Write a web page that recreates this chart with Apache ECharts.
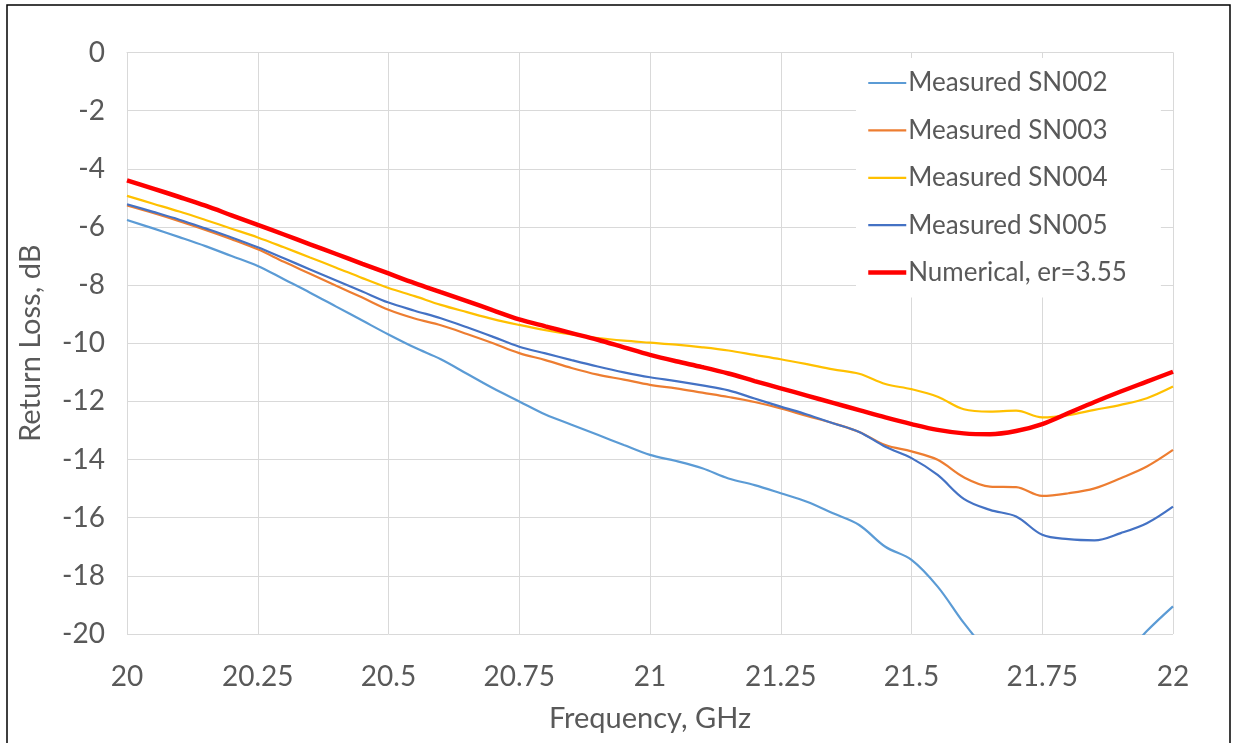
<!DOCTYPE html>
<html>
<head>
<meta charset="utf-8">
<script src="https://cdn.jsdelivr.net/npm/echarts@6/dist/echarts.min.js"></script>
<style>
  html, body { margin: 0; padding: 0; background: #fff; }
  #chart { width: 1233px; height: 743px; }
</style>
</head>
<body>
<div id="chart"></div>
<script>
// Frequency sweep, GHz (0.05 GHz steps)
const freq = [
  20.00, 20.05, 20.10, 20.15, 20.20, 20.25, 20.30, 20.35, 20.40, 20.45,
  20.50, 20.55, 20.60, 20.65, 20.70, 20.75, 20.80, 20.85, 20.90, 20.95,
  21.00, 21.05, 21.10, 21.15, 21.20, 21.25, 21.30, 21.35, 21.40, 21.45,
  21.50, 21.55, 21.60, 21.65, 21.70, 21.75, 21.80, 21.85, 21.90, 21.95,
  22.00
];

// Return loss, dB
const sn002 = [
  -5.76, -6.05, -6.35, -6.66, -7.00, -7.34, -7.80, -8.26, -8.74, -9.22,
  -9.70, -10.15, -10.55, -11.05, -11.55, -12.00, -12.45, -12.80, -13.15, -13.50,
  -13.84, -14.05, -14.30, -14.65, -14.88, -15.16, -15.45, -15.85, -16.25, -17.00,
  -17.45, -18.37, -19.62, -20.70, -21.60, -22.20, -22.30, -21.80, -20.90, -19.90,
  -19.05
];
const sn003 = [
  -5.26, -5.52, -5.80, -6.10, -6.42, -6.77, -7.20, -7.61, -8.02, -8.43,
  -8.85, -9.15, -9.38, -9.68, -10.00, -10.34, -10.58, -10.85, -11.08, -11.25,
  -11.43, -11.55, -11.70, -11.85, -12.02, -12.24, -12.50, -12.75, -13.05, -13.50,
  -13.72, -14.01, -14.61, -14.93, -14.95, -15.25, -15.16, -14.99, -14.64, -14.24,
  -13.67
];
const sn004 = [
  -4.93, -5.20, -5.47, -5.76, -6.06, -6.36, -6.70, -7.05, -7.40, -7.76,
  -8.10, -8.38, -8.68, -8.93, -9.17, -9.37, -9.55, -9.70, -9.82, -9.91,
  -9.98, -10.05, -10.14, -10.25, -10.40, -10.55, -10.72, -10.90, -11.05, -11.40,
  -11.58, -11.84, -12.27, -12.35, -12.32, -12.55, -12.47, -12.29, -12.12, -11.89,
  -11.49
];
const sn005 = [
  -5.22, -5.48, -5.75, -6.05, -6.36, -6.70, -7.08, -7.46, -7.84, -8.22,
  -8.60, -8.88, -9.14, -9.45, -9.78, -10.12, -10.35, -10.58, -10.80, -11.00,
  -11.17, -11.30, -11.45, -11.62, -11.90, -12.18, -12.45, -12.75, -13.05, -13.56,
  -13.95, -14.53, -15.35, -15.73, -15.96, -16.59, -16.74, -16.78, -16.53, -16.19,
  -15.62
];
const numerical = [
  -4.40, -4.68, -4.97, -5.27, -5.60, -5.93, -6.26, -6.60, -6.93, -7.27,
  -7.60, -7.93, -8.24, -8.55, -8.87, -9.18, -9.42, -9.65, -9.88, -10.14,
  -10.40, -10.62, -10.82, -11.04, -11.30, -11.55, -11.80, -12.05, -12.30, -12.55,
  -12.78, -12.98, -13.10, -13.13, -13.02, -12.78, -12.40, -12.02, -11.66, -11.32,
  -10.98
];

const seriesNames = [
  'Measured SN002', 'Measured SN003', 'Measured SN004',
  'Measured SN005', 'Numerical, er=3.55'
];
const seriesData = [sn002, sn003, sn004, sn005, numerical];
const seriesColors = ['#5B9BD5', '#ED7D31', '#FFC000', '#4472C4', '#FF0000'];
const seriesWidths = [2.2, 2.2, 2.2, 2.2, 4.5];

const FONT = 'Lato';
const TEXT = '#595959';

const chart = echarts.init(document.getElementById('chart'), null, { renderer: 'canvas' });

chart.setOption({
  backgroundColor: '#fff',
  animation: false,
  textStyle: { fontFamily: FONT },
  graphic: [{
    type: 'rect',
    shape: { x: 7, y: 5, width: 1223, height: 745 },
    style: { fill: 'none', stroke: '#000', lineWidth: 1.5 },
    silent: true,
    z: 100
  }],
  grid: { left: 127, right: 60, top: 52.5, bottom: 109 },
  legend: {
    orient: 'vertical',
    left: 856,
    top: 58,
    padding: [12, 34, 12, 10],
    backgroundColor: '#fff',
    itemWidth: 38,
    itemHeight: 16,
    itemGap: 21.4,
    itemStyle: { opacity: 0 },
    textStyle: { fontFamily: FONT, fontSize: 26, color: TEXT, padding: [0, 0, 0, -3] },
    data: seriesNames.map((name, i) => ({
      name,
      lineStyle: { width: seriesWidths[i] }
    }))
  },
  xAxis: {
    type: 'value',
    min: 20,
    max: 22,
    interval: 0.25,
    name: 'Frequency, GHz',
    nameLocation: 'middle',
    nameGap: 70,
    nameTextStyle: { fontFamily: FONT, fontSize: 29, color: TEXT },
    axisLine: { show: true, lineStyle: { color: '#D9D9D9', width: 1 } },
    axisTick: { show: false },
    axisLabel: { fontFamily: FONT, fontSize: 28, color: TEXT, margin: 29 },
    splitLine: { show: true, lineStyle: { color: '#D9D9D9', width: 1 } }
  },
  yAxis: {
    type: 'value',
    min: -20,
    max: 0,
    interval: 2,
    name: 'Return Loss, dB',
    nameLocation: 'middle',
    nameGap: 82,
    nameTextStyle: { fontFamily: FONT, fontSize: 29, color: TEXT },
    axisLine: { show: false },
    axisTick: { show: false },
    axisLabel: { fontFamily: FONT, fontSize: 28, color: TEXT, margin: 22 },
    splitLine: { show: true, lineStyle: { color: '#D9D9D9', width: 1 } }
  },
  series: seriesNames.map((name, i) => ({
    name,
    type: 'line',
    data: freq.map((f, k) => [f, seriesData[i][k]]),
    symbol: 'none',
    smooth: 0.35,
    clip: true,
    color: seriesColors[i],
    lineStyle: { color: seriesColors[i], width: seriesWidths[i] },
    z: i === 4 ? 5 : 3
  }))
});
</script>
</body>
</html>
